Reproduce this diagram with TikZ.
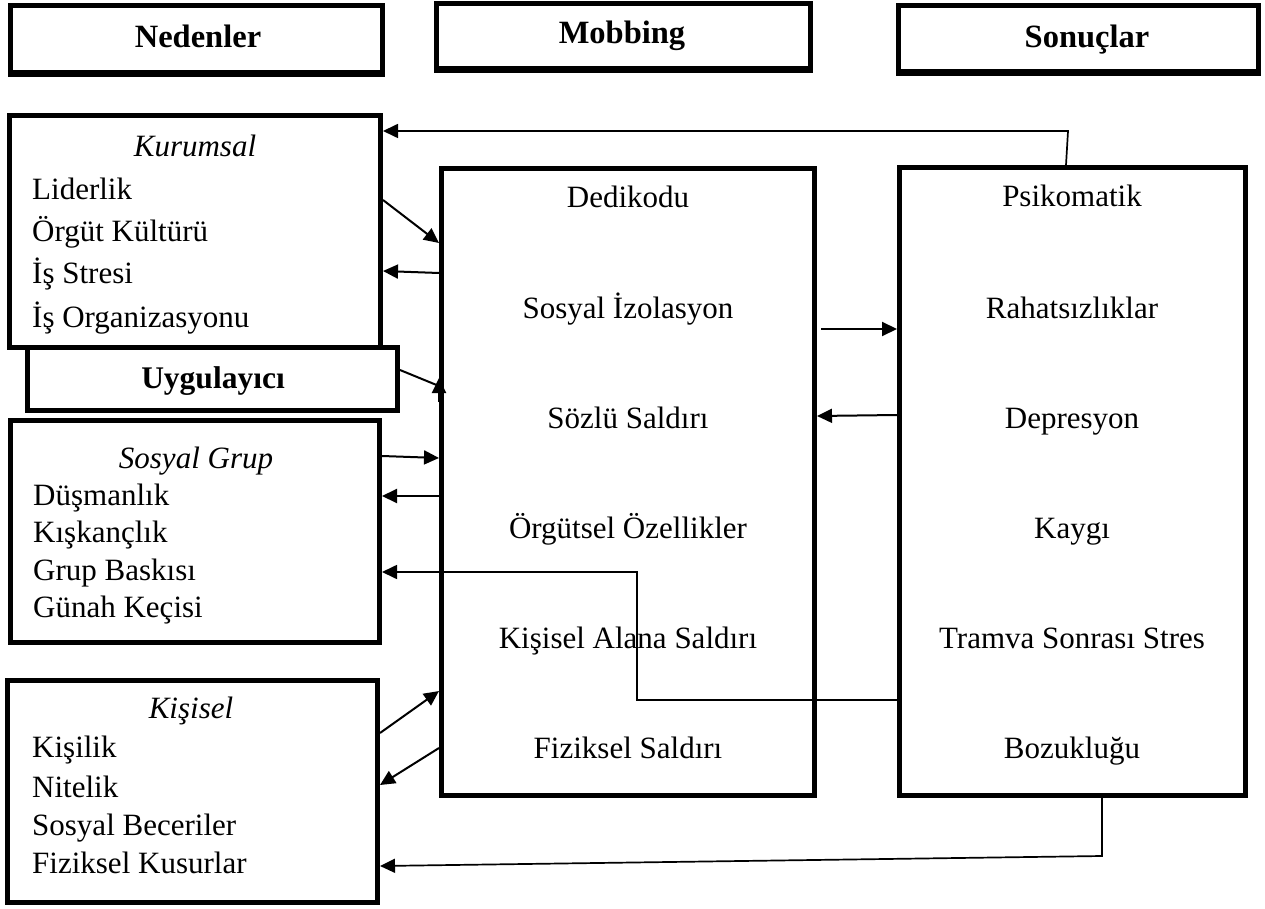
\documentclass[tikz,border=0pt]{standalone}
\usepackage{fontspec}
\setmainfont{Liberation Serif}
\usetikzlibrary{arrows.meta}

\begin{document}
\begin{tikzpicture}[x=1pt,y=-1pt,
  box/.style={draw, line width=5pt, fill=white, inner sep=0pt},
  txt/.style={inner sep=0pt, font=\fontsize{31}{36}\selectfont},
  item/.style={txt, anchor=base west},
  mid/.style={txt, anchor=base},
  emph/.style={mid, font=\fontsize{31}{36}\selectfont\itshape},
  head/.style={txt, anchor=base, font=\fontsize{32.5}{38}\selectfont\bfseries},
  link/.style={line width=2pt},
  conn/.style={link, -{Triangle[length=15pt,width=14pt]}},
  longconn/.style={line width=1.7pt, -{Triangle[length=15pt,width=14pt]}}
]
\useasboundingbox (0,0) rectangle (1265,909);

% column headings
\node[box, minimum width=372pt, minimum height=67pt] (ned) at (196.5,39) {};
\node[box, minimum width=374pt, minimum height=65pt] (mob) at (623.5,36) {};
\node[box, minimum width=360pt, minimum height=66pt] (son) at (1078.5,38.5) {};
\draw[line width=3pt] ([yshift=-1pt]ned.south west) -- ([yshift=-1pt]ned.south east);
\draw[line width=3pt] ([yshift=-1pt]mob.south west) -- ([yshift=-1pt]mob.south east);
\draw[line width=3pt] ([yshift=-1pt]son.south west) -- ([yshift=-1pt]son.south east);
\node[head] (tned) at (198,48) {Nedenler};
\node[head] (tmob) at (622,44) {Mobbing};
\node[head] (tson) at (1087,48) {Sonuçlar};

% causes
\node[box, minimum width=371pt, minimum height=232pt] (kur) at (195,231.5) {};
\node[box, minimum width=370pt, minimum height=63pt] (uyg) at (212.5,379) {};
\node[box, minimum width=369pt, minimum height=222pt] (sos) at (195,531.5) {};
\node[box, minimum width=370pt, minimum height=222pt] (kis) at (192.5,791.5) {};

\node[emph] (kur0) at (195,157) {Kurumsal};
\node[item] (kur1) at (32,200) {Liderlik};
\node[item] (kur2) at (32,242) {Örgüt Kültürü};
\node[item] (kur3) at (32,283) {İş Stresi};
\node[item] (kur4) at (32,327) {İş Organizasyonu};

\node[head, font=\fontsize{31.5}{38}\selectfont\bfseries] (tuyg) at (213,388) {Uygulayıcı};

\node[emph] (sos0) at (196,468) {Sosyal Grup};
\node[item] (sos1) at (33,505) {Düşmanlık};
\node[item] (sos2) at (33,542) {Kışkançlık};
\node[item] (sos3) at (33,580) {Grup Baskısı};
\node[item] (sos4) at (33,617) {Günah Keçisi};

\node[emph] (kis0) at (191,718) {Kişisel};
\node[item] (kis1) at (32,757) {Kişilik};
\node[item] (kis2) at (32,797) {Nitelik};
\node[item] (kis3) at (32,835) {Sosyal Beceriler};
\node[item] (kis4) at (32,873) {Fiziksel Kusurlar};

% mobbing behaviours
\node[box, minimum width=373pt, minimum height=627pt] (beh) at (628,482) {};
\node[mid] (beh1) at (628,208) {Dedikodu};
\node[mid] (beh2) at (628,318) {Sosyal İzolasyon};
\node[mid] (beh3) at (628,428) {Sözlü Saldırı};
\node[mid] (beh4) at (628,538) {Örgütsel Özellikler};
\node[mid] (beh5) at (628,648) {Kişisel Alana Saldırı};
\node[mid] (beh6) at (628,758) {Fiziksel Saldırı};

% consequences
\node[box, minimum width=346pt, minimum height=628pt] (res) at (1072.5,481.5) {};
\node[mid] (res1) at (1072,207) {Psikomatik};
\node[mid] (res2) at (1072,318) {Rahatsızlıklar};
\node[mid] (res3) at (1072,428) {Depresyon};
\node[mid] (res4) at (1072,538) {Kaygı};
\node[mid] (res5) at (1072,648) {Tramva Sonrası Stres};
\node[mid] (res6) at (1072,758) {Bozukluğu};

% links between causes and behaviours
\draw[conn] (kur.east |- 0,200) -- (beh.west |- 0,243);
\draw[conn] (beh.west |- 0,273) -- (kur.east |- 0,271);
% the head of this one sits upright on the box border
\draw[link] (uyg.east |- 0,370) -- (beh.west |- 0,386);
\draw[conn] (beh.west |- 0,402) -- (beh.west |- 0,378);
\draw[conn] (sos.east |- 0,456) -- (beh.west |- 0,458);
\draw[conn] (beh.west |- 0,496) -- (sos.east |- 0,496);
\draw[conn] (kis.east |- 0,733) -- (beh.west |- 0,691);
\draw[conn] (beh.west |- 0,748) -- (kis.east |- 0,785);

% links between behaviours and consequences
\draw[conn] ([xshift=4pt]beh.east |- 0,329) -- (res.west |- 0,329);
\draw[conn] (res.west |- 0,415) -- (beh.east |- 0,416);

% feedback from consequences to causes
\coordinate (fb1a) at (637,700);
\coordinate (fb1b) at (637,572);
\draw[longconn] (res.west |- 0,700) -- (fb1a) -- (fb1b) -- (sos.east |- 0,572);

\coordinate (fb2a) at (1068,131);
\draw[longconn] (res.north -| 1066,0) -- (fb2a) -- (kur.east |- 0,131);

\coordinate (fb3a) at (1102,856);
\draw[longconn] (res.south -| 1102,0) -- (fb3a) -- (kis.east |- 0,866);

\end{tikzpicture}
\end{document}
